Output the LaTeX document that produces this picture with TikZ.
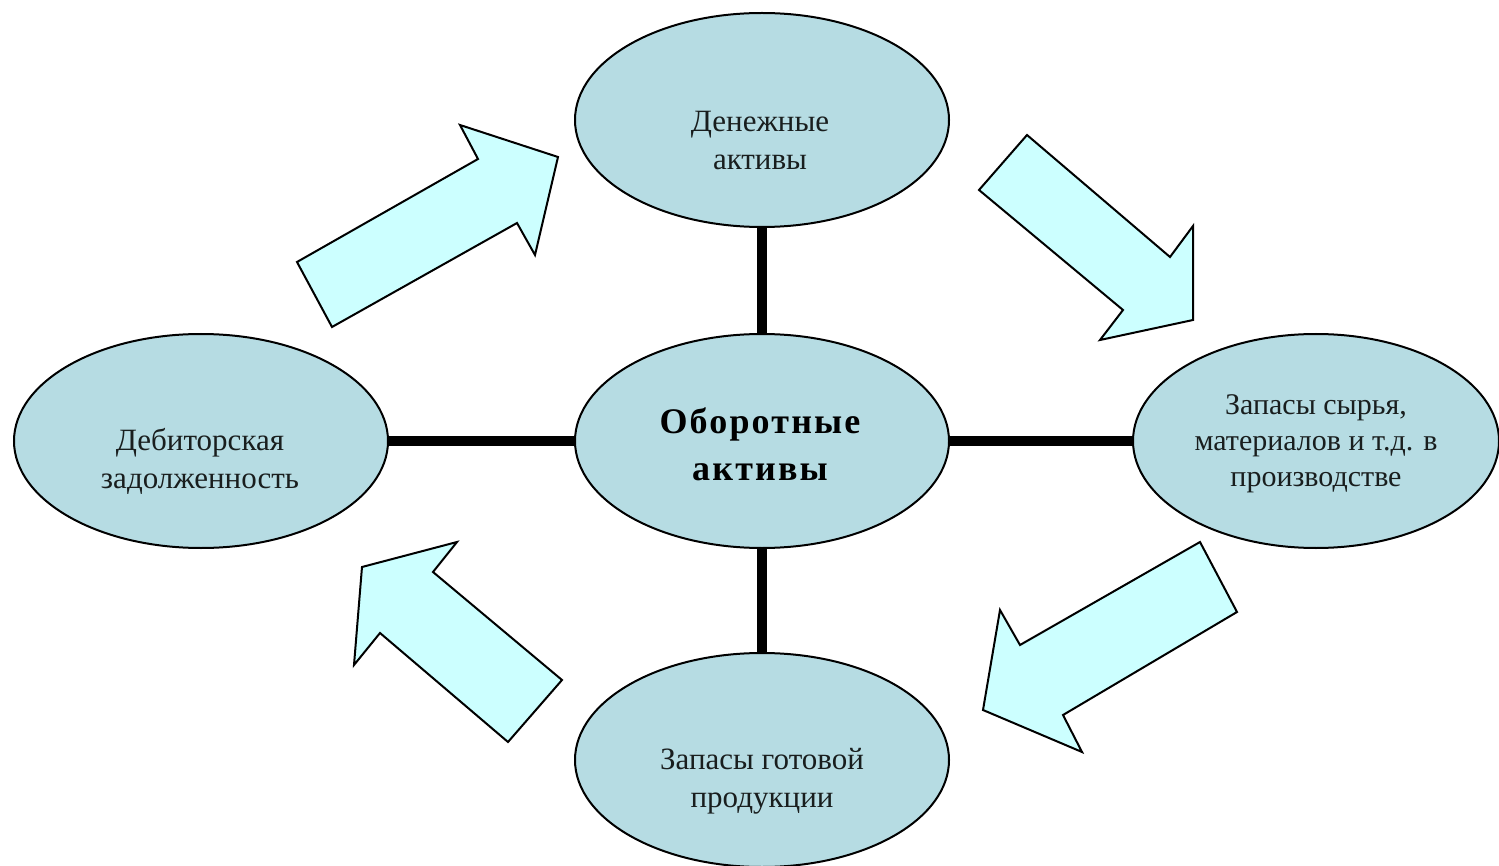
\documentclass[tikz,border=0pt]{standalone}
\usepackage{fontspec}
\setmainfont{Liberation Serif}
\usetikzlibrary{shapes.geometric}
\definecolor{ellfill}{RGB}{182,220,227}
\definecolor{arrfill}{RGB}{204,255,255}
\definecolor{txt}{RGB}{25,30,30}
\tikzset{
  ell/.style={ellipse, draw=black, line width=2pt, fill=ellfill, minimum width=374pt, minimum height=214pt, inner sep=0pt},
  lbl/.style={align=center, text=txt, font=\fontsize{31}{38}\selectfont, inner sep=0pt},
  biglbl/.style={align=center, text=black, font=\fontsize{36}{47}\selectfont\bfseries\addfontfeature{LetterSpace=6}, inner sep=0pt},
  blockarrow/.style={draw=black, line width=2pt, fill=arrfill, line join=miter},
  spoke/.style={line width=10pt, draw=black}
}
\begin{document}
\begin{tikzpicture}[x=1pt,y=-1pt]
\useasboundingbox (0,0) rectangle (1499,866);
% block arrows
\filldraw[blockarrow] (297,262) -- (478,159) -- (460,125) -- (558,157) -- (535,255) -- (517,223) -- (332,327) -- cycle;
\filldraw[blockarrow] (1027,135) -- (1170,257) -- (1193,226) -- (1193,320) -- (1100,340) -- (1123,310) -- (979,190) -- cycle;
\filldraw[blockarrow] (1200,542) -- (1020,645) -- (1000,610) -- (983,710) -- (1082,752) -- (1063,715) -- (1237,612) -- cycle;
\filldraw[blockarrow] (562,680) -- (433,572) -- (457,542) -- (362,567) -- (354,665) -- (380,633) -- (508,742) -- cycle;
% ellipses
\node[ell] (top) at (762,120) {};
\node[ell] (mid) at (762,441) {};
\node[ell] (left) at (201,441) {};
\node[ell, minimum width=366pt] (right) at (1316,441) {};
\node[ell] (bot) at (762,760) {};
% spokes
\draw[spoke] (mid.north) -- (top.south);
\draw[spoke] (mid.south) -- (bot.north);
\draw[spoke] (mid.west) -- (left.east);
\draw[spoke] (mid.east) -- (right.west);
% texts
\node[lbl] (ttop) at (760,141) {Денежные\\активы};
\node[biglbl] (tmid) at (760,444) {Оборотные\\активы};
\node[lbl] (tleft) at (200,461) {Дебиторская\\задолженность};
\node[lbl, font=\fontsize{30}{36}\selectfont] (tright) at (1316,444) {Запасы сырья,\\материалов и т.д. в\\производстве};
\node[lbl] (tbot) at (762,781) {Запасы готовой\\продукции};
\end{tikzpicture}
\end{document}
